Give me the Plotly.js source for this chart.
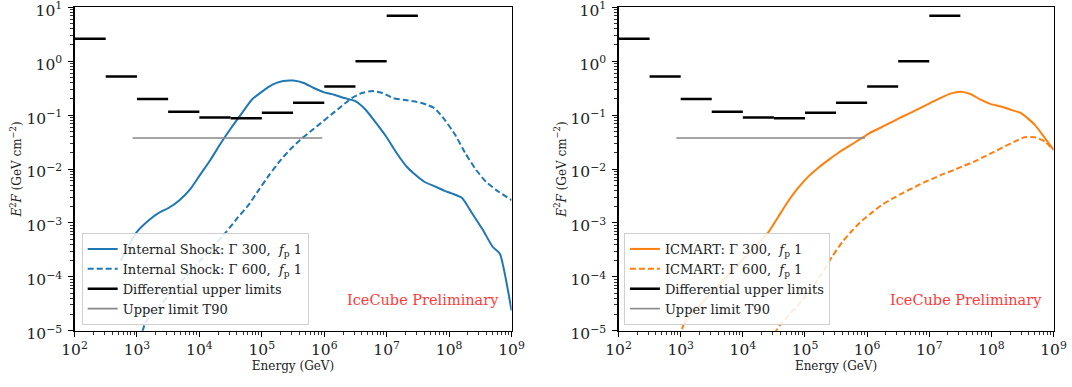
<!DOCTYPE html>
<html>
<head>
<meta charset="utf-8">
<script src="https://cdn.plot.ly/plotly-3.0.1.min.js"></script>
<style>html,body{margin:0;padding:0;background:#fff;}#chart{width:1072px;height:387px;}</style>
</head>
<body>
<div id="chart"></div>
<script>
// ---------- data ----------
const binLow  = [1e2, 3.16e2, 1e3, 3.16e3, 1e4, 3.16e4, 1e5, 3.16e5, 1e6, 3.16e6, 1e7];
const binHigh = [3.16e2, 1e3, 3.16e3, 1e4, 3.16e4, 1e5, 3.16e5, 1e6, 3.16e6, 1e7, 3.16e7];
const diffUL  = [2.6, 0.52, 0.20, 0.115, 0.09, 0.087, 0.11, 0.17, 0.34, 1.0, 7.0];

const t90E = [8.5e2, 9.3e5];
const t90F = [0.0375, 0.0375];

const is300E = [5.5e2, 1.0e3, 1.55e3, 2.24e3, 3.3e3, 4.8e3, 7.1e3, 1.02e4, 1.5e4, 2.2e4, 3.2e4, 4.8e4, 6.9e4, 1.02e5, 1.48e5, 2.2e5, 3.2e5, 4.7e5, 6.8e5, 1.0e6, 1.45e6, 2.1e6, 3.2e6, 4.6e6, 6.8e6, 9.8e6, 1.45e7, 2.1e7, 2.7e7, 4.0e7, 5.8e7, 8.5e7, 1.1e8, 1.6e8, 2.35e8, 3.5e8, 5.0e8, 6.5e8, 1.0e9];
const is300F = [2.0e-4, 6.8e-4, 1.12e-3, 1.53e-3, 1.93e-3, 2.64e-3, 4.18e-3, 7.7e-3, 1.47e-2, 3.0e-2, 5.7e-2, 0.109, 0.193, 0.276, 0.367, 0.43, 0.437, 0.394, 0.318, 0.264, 0.239, 0.207, 0.18, 0.126, 0.071, 0.040, 0.0196, 0.0110, 8.3e-3, 5.8e-3, 4.8e-3, 3.94e-3, 3.52e-3, 2.92e-3, 1.49e-3, 7.3e-4, 3.57e-4, 2.68e-4, 2.36e-5];

const is600E = [1.23e3, 1.38e3, 6.0e3, 2.7e4, 4.2e4, 6.1e4, 8.9e4, 1.31e5, 1.91e5, 2.8e5, 4.1e5, 6.0e5, 8.8e5, 1.28e6, 1.87e6, 2.75e6, 4.0e6, 5.9e6, 8.6e6, 1.27e7, 1.85e7, 2.7e7, 3.95e7, 5.8e7, 8.5e7, 1.25e8, 1.82e8, 2.7e8, 3.9e8, 5.7e8, 1.0e9];
const is600F = [9.8e-6, 1.43e-5, 1.0e-4, 6.8e-4, 1.29e-3, 2.13e-3, 4.06e-3, 7.7e-3, 1.37e-2, 2.26e-2, 3.47e-2, 4.97e-2, 7.1e-2, 0.101, 0.145, 0.207, 0.257, 0.280, 0.257, 0.207, 0.193, 0.180, 0.163, 0.135, 0.0818, 0.0431, 0.0196, 9.6e-3, 5.8e-3, 4.06e-3, 2.64e-3];

const ic300E = [1.05e3, 1.17e3, 5.0e3, 2.6e4, 3.7e4, 5.4e4, 7.8e4, 1.14e5, 1.66e5, 2.4e5, 3.5e5, 5.1e5, 7.4e5, 1.08e6, 1.58e6, 2.3e6, 3.3e6, 4.9e6, 7.1e6, 1.03e7, 1.5e7, 2.19e7, 3.2e7, 4.6e7, 6.7e7, 9.8e7, 1.43e8, 2.08e8, 3.0e8, 5.0e8, 7.3e8, 1.0e9];
const ic300F = [1.07e-5, 1.43e-5, 9.0e-5, 6.8e-4, 1.29e-3, 2.55e-3, 4.5e-3, 7.3e-3, 1.07e-2, 1.48e-2, 2.02e-2, 2.66e-2, 3.47e-2, 4.6e-2, 5.7e-2, 7.1e-2, 8.8e-2, 0.109, 0.135, 0.167, 0.207, 0.250, 0.272, 0.246, 0.193, 0.160, 0.145, 0.125, 0.109, 0.066, 0.0372, 0.0226];

const ic600E = [3.2e4, 3.9e4, 1.0e5, 1.86e5, 2.7e5, 4.0e5, 5.8e5, 8.4e5, 1.23e6, 1.79e6, 2.6e6, 3.8e6, 5.5e6, 8.0e6, 1.17e7, 1.7e7, 2.5e7, 3.6e7, 5.3e7, 7.7e7, 1.12e8, 1.62e8, 2.36e8, 3.4e8, 5.0e8, 7.3e8, 1.0e9];
const ic600F = [8.7e-6, 1.24e-5, 4.2e-5, 1.14e-4, 2.32e-4, 4.43e-4, 7.3e-4, 1.12e-3, 1.60e-3, 2.23e-3, 2.84e-3, 3.62e-3, 4.49e-3, 5.56e-3, 6.7e-3, 8.1e-3, 9.6e-3, 1.15e-2, 1.37e-2, 1.70e-2, 2.10e-2, 2.61e-2, 3.23e-2, 3.89e-2, 3.89e-2, 3.23e-2, 2.26e-2];

const xTickVals = [1e2, 1e3, 1e4, 1e5, 1e6, 1e7, 1e8, 1e9];
const xTickText = ['10<sup>2</sup>','10<sup>3</sup>','10<sup>4</sup>','10<sup>5</sup>','10<sup>6</sup>','10<sup>7</sup>','10<sup>8</sup>','10<sup>9</sup>'];
const yTickVals = [1e-5, 1e-4, 1e-3, 1e-2, 1e-1, 1e0, 1e1];
const yTickText = ['10<sup>−5</sup>','10<sup>−4</sup>','10<sup>−3</sup>','10<sup>−2</sup>','10<sup>−1</sup>','10<sup>0</sup>','10<sup>1</sup>'];

const names = {
  is300: 'Internal Shock: Γ 300,  <i>f</i><sub>p</sub> 1',
  is600: 'Internal Shock: Γ 600,  <i>f</i><sub>p</sub> 1',
  ic300: 'ICMART: Γ 300,  <i>f</i><sub>p</sub> 1',
  ic600: 'ICMART: Γ 600,  <i>f</i><sub>p</sub> 1',
  ul: 'Differential upper limits',
  t90: 'Upper limit T90'
};

// ---------- build ----------
function segs(lo, hi, v) {
  const x = [], y = [];
  for (let i = 0; i < lo.length; i++) { x.push(lo[i], hi[i], null); y.push(v[i], v[i], null); }
  return {x, y};
}
const ul = segs(binLow, binHigh, diffUL);
const BLUE = '#1f77b4', ORANGE = '#ff7f0e';
const DASH = '6px,3px';

function panel(xa, ya, leg, c300, c600, color) {
  return [
    {x: c300[0], y: c300[1], xaxis: xa, yaxis: ya, legend: leg, name: c300[2], mode: 'lines',
     line: {color: color, width: 2, shape: 'spline', smoothing: 0.5}},
    {x: c600[0], y: c600[1], xaxis: xa, yaxis: ya, legend: leg, name: c600[2], mode: 'lines',
     line: {color: color, width: 2, dash: DASH, shape: 'spline', smoothing: 0.5}},
    {x: ul.x, y: ul.y, xaxis: xa, yaxis: ya, legend: leg, name: names.ul, mode: 'lines',
     line: {color: '#000', width: 2.5}, connectgaps: false},
    {x: t90E, y: t90F, xaxis: xa, yaxis: ya, legend: leg, name: names.t90, mode: 'lines',
     line: {color: '#888888', width: 1.6}}
  ];
}

const data = [].concat(
  panel('x', 'y', 'legend', [is300E, is300F, names.is300], [is600E, is600F, names.is600], BLUE),
  panel('x2', 'y2', 'legend2', [ic300E, ic300F, names.ic300], [ic600E, ic600F, names.ic600], ORANGE)
);

const minorVals = (lo, hi) => { const a = []; for (let p = lo; p < hi; p++) for (let k = 2; k <= 9; k++) a.push(k * Math.pow(10, p)); return a; };
const FONT = 'DejaVu Serif';

function xAxis(domain, anchor) {
  return {type: 'log', range: [2, 9], domain: domain, anchor: anchor,
    tickmode: 'array', tickvals: xTickVals, ticktext: xTickText,
    ticks: 'outside', ticklen: 5, tickwidth: 1, tickcolor: '#000',
    minor: {tickmode: 'array', tickvals: minorVals(2, 9), ticks: 'outside', ticklen: 3, tickwidth: 0.8, tickcolor: '#000', showgrid: false},
    showline: true, linecolor: '#000', linewidth: 1.2, mirror: true, showgrid: false, zeroline: false,
    tickfont: {family: FONT, size: 15.5, color: '#222'}, ticklabeloverflow: 'allow',
    title: {text: 'Energy (GeV)', font: {family: FONT, size: 12, color: '#222'}, standoff: 2}};
}
function yAxis(domain, anchor) {
  return {type: 'log', range: [-5, 1], domain: domain, anchor: anchor,
    tickmode: 'array', tickvals: yTickVals, ticktext: yTickText,
    ticks: 'outside', ticklen: 5, tickwidth: 1, tickcolor: '#000', ticklabelstandoff: 3, ticklabelshift: 3,
    minor: {tickmode: 'array', tickvals: minorVals(-5, 1), ticks: 'outside', ticklen: 3, tickwidth: 0.8, tickcolor: '#000', showgrid: false},
    showline: true, linecolor: '#000', linewidth: 1.2, mirror: true, showgrid: false, zeroline: false,
    tickfont: {family: FONT, size: 15.5, color: '#222'}, ticklabeloverflow: 'allow',
    title: {text: '<i>E</i><sup>2</sup><i>F</i> (GeV cm<sup>−2</sup>)', font: {family: FONT, size: 12, color: '#222'}}};
}
const legStyle = (x) => ({x: x, y: 0.398, xanchor: 'left', yanchor: 'top', bgcolor: 'rgba(255,255,255,0.85)',
  bordercolor: '#d0d0d0', borderwidth: 1, font: {family: FONT, size: 13, color: '#222'}, tracegroupgap: 0});

const layout = {
  width: 1072, height: 387, margin: {l: 0, r: 0, t: 0, b: 0},
  paper_bgcolor: '#fff', plot_bgcolor: '#fff', showlegend: true,
  xaxis: xAxis([0.0695, 0.4772], 'y'),
  yaxis: yAxis([0.1455, 0.9811], 'x'),
  xaxis2: xAxis([0.577, 0.9828], 'y2'),
  yaxis2: yAxis([0.1455, 0.9811], 'x2'),
  legend: legStyle(0.0762),
  legend2: legStyle(0.582),
  annotations: [
    {text: 'IceCube Preliminary', xref: 'x domain', yref: 'y domain', x: 0.975, y: 0.095, xanchor: 'right', yanchor: 'middle', showarrow: false,
     font: {family: FONT, size: 14.5, color: '#ff3b3b'}},
    {text: 'IceCube Preliminary', xref: 'x2 domain', yref: 'y2 domain', x: 0.977, y: 0.095, xanchor: 'right', yanchor: 'middle', showarrow: false,
     font: {family: FONT, size: 14.5, color: '#ff3b3b'}}
  ]
};

Plotly.newPlot('chart', data, layout, {staticPlot: true, displayModeBar: false});
</script>
</body>
</html>
